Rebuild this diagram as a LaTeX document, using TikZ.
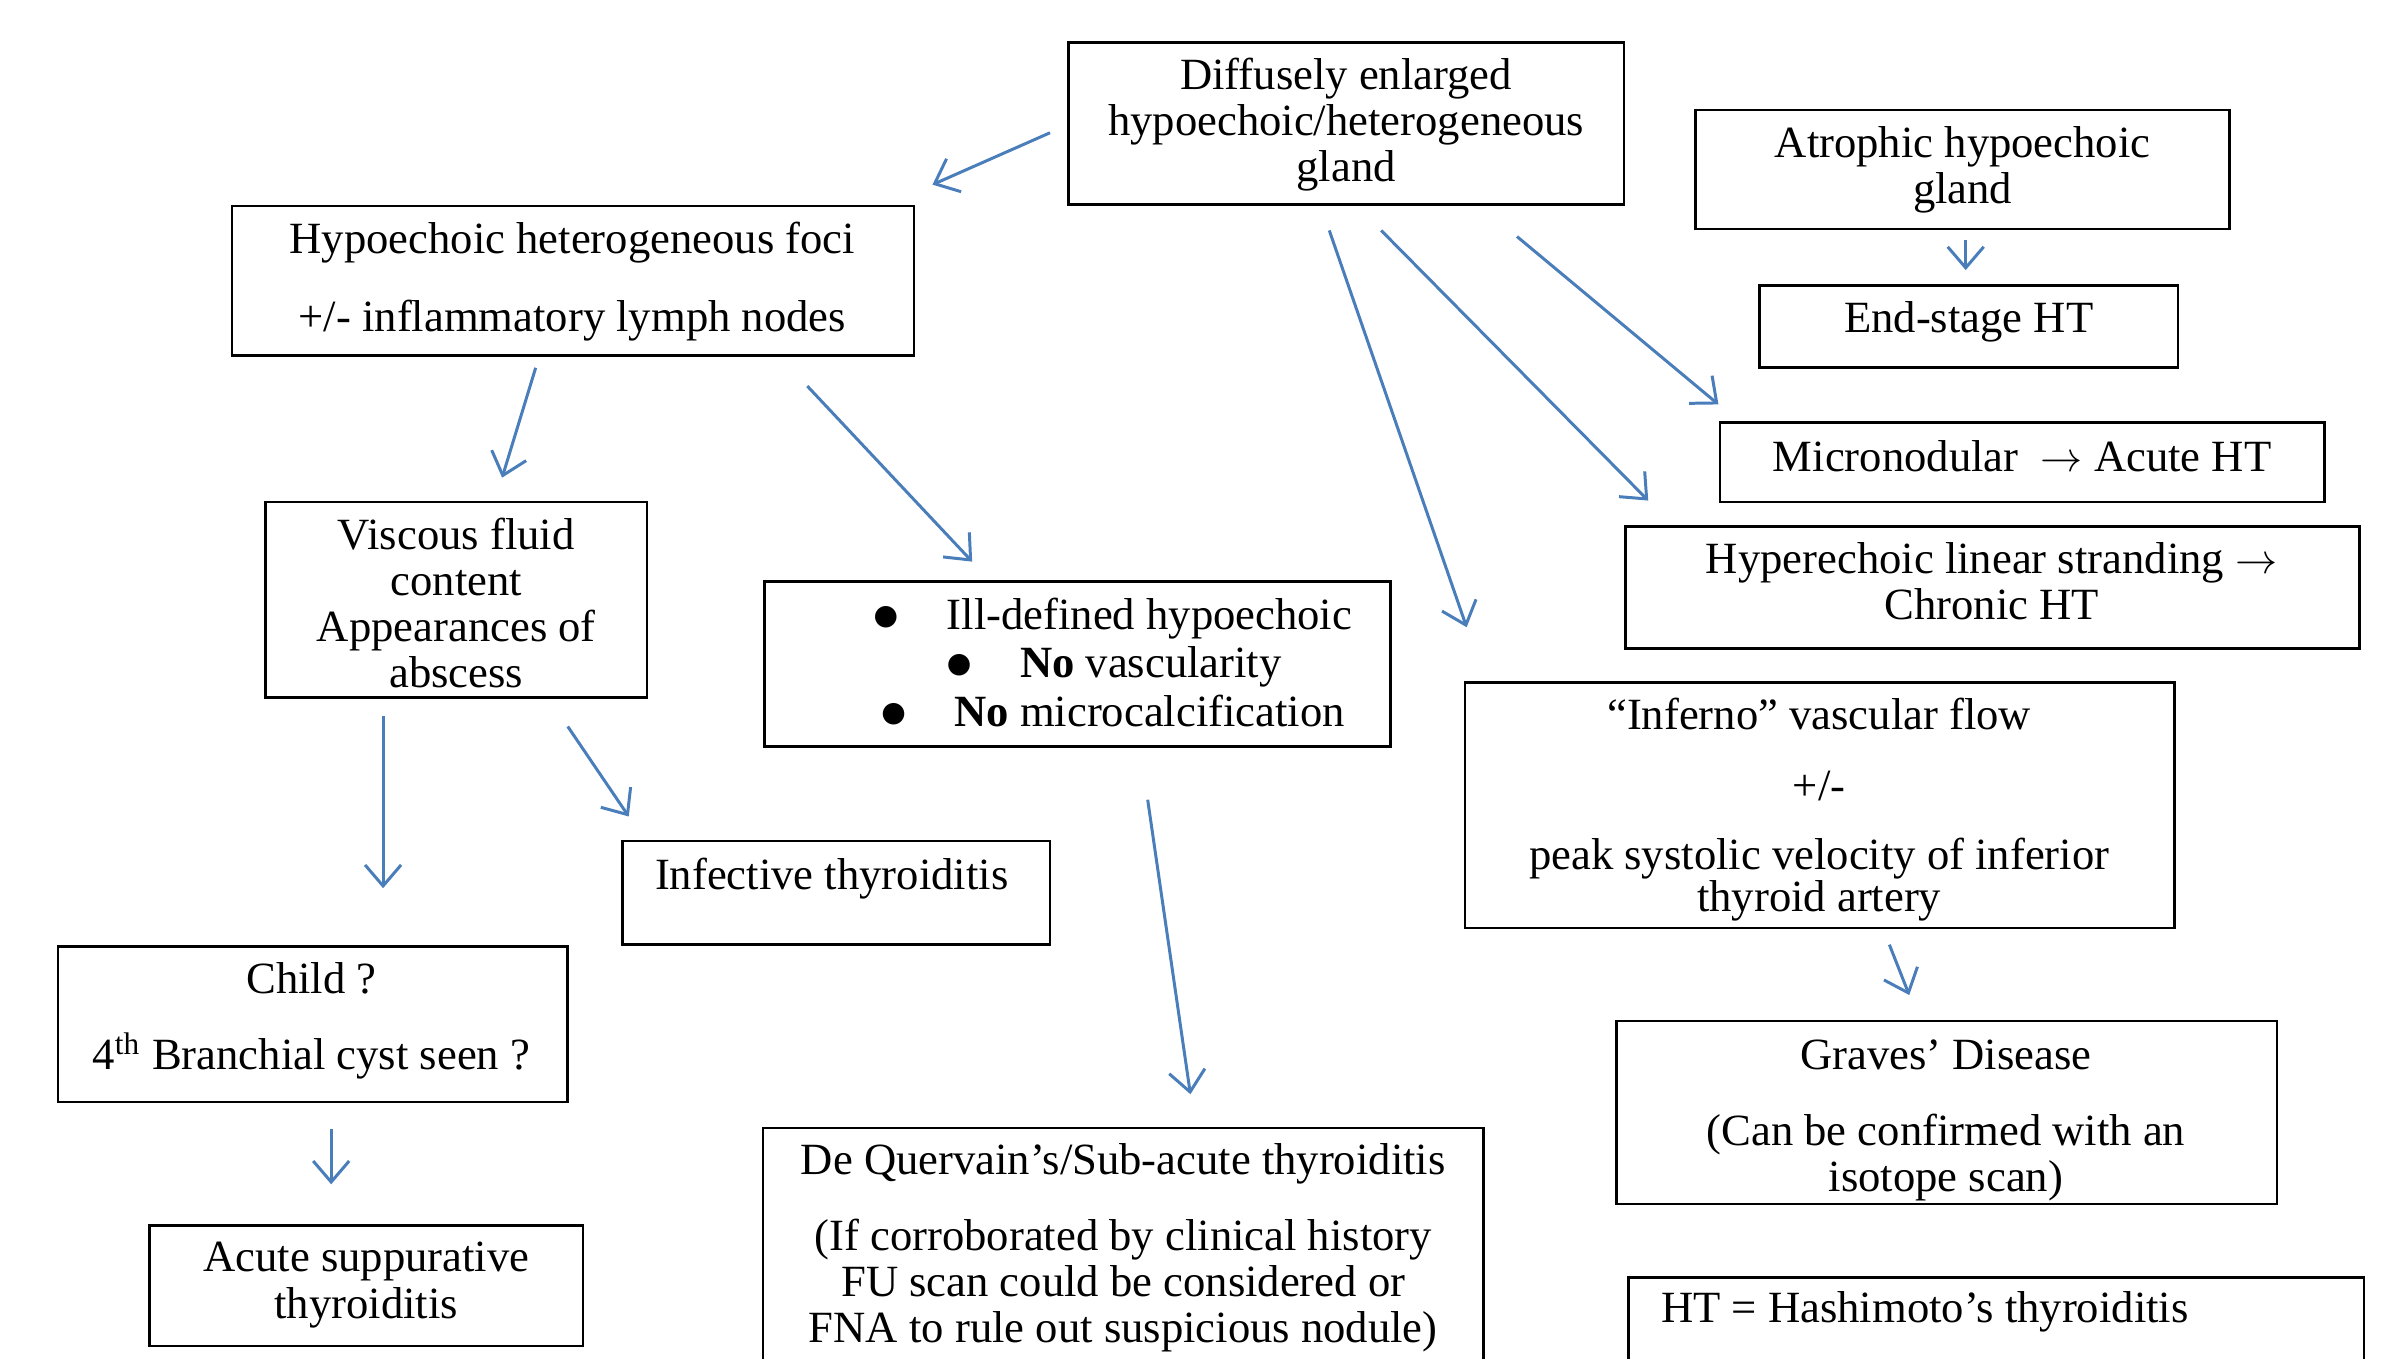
\documentclass[tikz,border=0pt]{standalone}
\usepackage{fontspec}
\setmainfont{Liberation Serif}
\newfontfamily\bulfont{DejaVu Sans}
\usetikzlibrary{arrows.meta,fit}
\definecolor{arrowblue}{RGB}{74,126,187}
\newcommand{\mybul}{\makebox[20.8pt][l]{\raisebox{1.4pt}{\fontsize{8}{8}\bulfont ●}}}
\begin{document}
\begin{tikzpicture}[x=0.01526cm,y=-0.01526cm,
  box/.style={draw=black,line width=0.75pt,inner sep=0pt,rectangle},
  txt/.style={inner sep=0pt,align=center,font=\fontsize{12.7}{13.1}\selectfont},
  txtw/.style={txt,align=left,anchor=west},
  bline/.style={txtw,text height=0.7em,text depth=0.2em},
  arr/.style={draw=arrowblue,line width=0.85pt,-{Straight Barb[length=2.1mm,width=3.6mm]}}]
\useasboundingbox (0,0) rectangle (1568,890);
\clip (0,0) rectangle (1568,890);
% boxes
\node[box,fit={(700,28) (1064,134)}] (diff) {};
\node[box,fit={(1111,72) (1461,150)}] (atro) {};
\node[box,fit={(1153,187) (1427,241)}] (endst) {};
\node[box,fit={(1127,277) (1523,329)}] (micro) {};
\node[box,fit={(1065,345) (1546,425)}] (hyper) {};
\node[box,fit={(152,135) (599,233)}] (foci) {};
\node[box,fit={(174,329) (424,457)}] (visc) {};
\node[box,fit={(501,381) (911,489)}] (ill) {};
\node[box,fit={(408,551) (688,619)}] (infect) {};
\node[box,fit={(960,447) (1425,608)}] (infer) {};
\node[box,fit={(38,620) (372,722)}] (child) {};
\node[box,fit={(98,803) (382,882)}] (acute) {};
\node[box,fit={(500,739) (972,905)}] (dequer) {};
\node[box,fit={(1059,669) (1492,789)}] (graves) {};
\node[box,fit={(1067,837) (1549,905)}] (htbox) {};
% texts
\node[txt] (tdiff) at (882,81.5) {Diffusely enlarged\\hypoechoic/heterogeneous\\gland};
\node[txt] (tatro) at (1286,111) {Atrophic hypoechoic\\gland};
\node[txt] (tend) at (1290,211) {End-stage HT};
\node[txt] (tmicro) at (1325,299) {Micronodular\ \ $\rightarrow$ Acute HT};
\node[txt] (thyper) at (1305,381) {Hyperechoic linear stranding $\rightarrow$\\Chronic HT};
\node[txt] (tfoci1) at (375,159) {Hypoechoic heterogeneous foci};
\node[txt] (tfoci2) at (375,210) {+/- inflammatory lymph nodes};
\node[txt] (tvisc) at (299,395) {Viscous fluid\\content\\Appearances of\\abscess};
\node[bline] (ill1) at (572,406.5) {\mybul Ill-defined hypoechoic};
\node[bline] (ill2) at (620,438) {\mybul\textbf{No} vascularity};
\node[bline] (ill3) at (577,470.5) {\mybul\textbf{No} microcalcification};
\node[txt] (tinf) at (545,576) {Infective thyroiditis};
\node[txt] (tinfer1) at (1192,468) {“Inferno” vascular flow};
\node[txt] (tinfer2) at (1192,515) {+/-};
\node[txt,font=\fontsize{12.7}{11.8}\selectfont] (tinfer3) at (1192,576.5) {peak systolic velocity of inferior\\thyroid artery};
\node[txt] (tchild1) at (204,641) {Child ?};
\node[txt] (tchild2) at (204,692) {4\textsuperscript{th} Branchial cyst seen ?};
\node[txt] (tacute) at (240,842) {Acute suppurative\\thyroiditis};
\node[txt] (tdq1) at (736,762.5) {De Quervain’s/Sub-acute thyroiditis};
\node[txt] (tdq2) at (736,842.5) {(If corroborated by clinical history\\FU scan could be considered or\\FNA to rule out suspicious nodule)};
\node[txt] (tgr1) at (1275,691) {Graves’ Disease};
\node[txt] (tgr2) at (1275,758.5) {(Can be confirmed with an\\isotope scan)};
\node[txtw] (tht) at (1088,859.5) {HT = Hashimoto’s thyroiditis};
% arrow end points
\coordinate (a1s) at (688,87);   \coordinate (a1e) at (611,121);
\coordinate (a2s) at (994,155);  \coordinate (a2e) at (1126,265);
\coordinate (a3s) at (905,151);  \coordinate (a3e) at (1080,328);
\coordinate (a4s) at (871,151);  \coordinate (a4e) at (961,411);
\coordinate (a5s) at (1288,157); \coordinate (a5e) at (1288,177);
\coordinate (a6s) at (351,241);  \coordinate (a6e) at (329,313);
\coordinate (a7s) at (529,253);  \coordinate (a7e) at (637,368);
\coordinate (a8s) at (251,469);  \coordinate (a8e) at (251,582);
\coordinate (a9s) at (372,476);  \coordinate (a9e) at (412,535);
\coordinate (a10s) at (752,524); \coordinate (a10e) at (780,717);
\coordinate (a11s) at (1238,619);\coordinate (a11e) at (1251,652);
\coordinate (a12s) at (217,740); \coordinate (a12e) at (217,776);
\foreach \i in {1,...,12} {\draw[arr] (a\i s) -- (a\i e);}
\end{tikzpicture}
\end{document}
